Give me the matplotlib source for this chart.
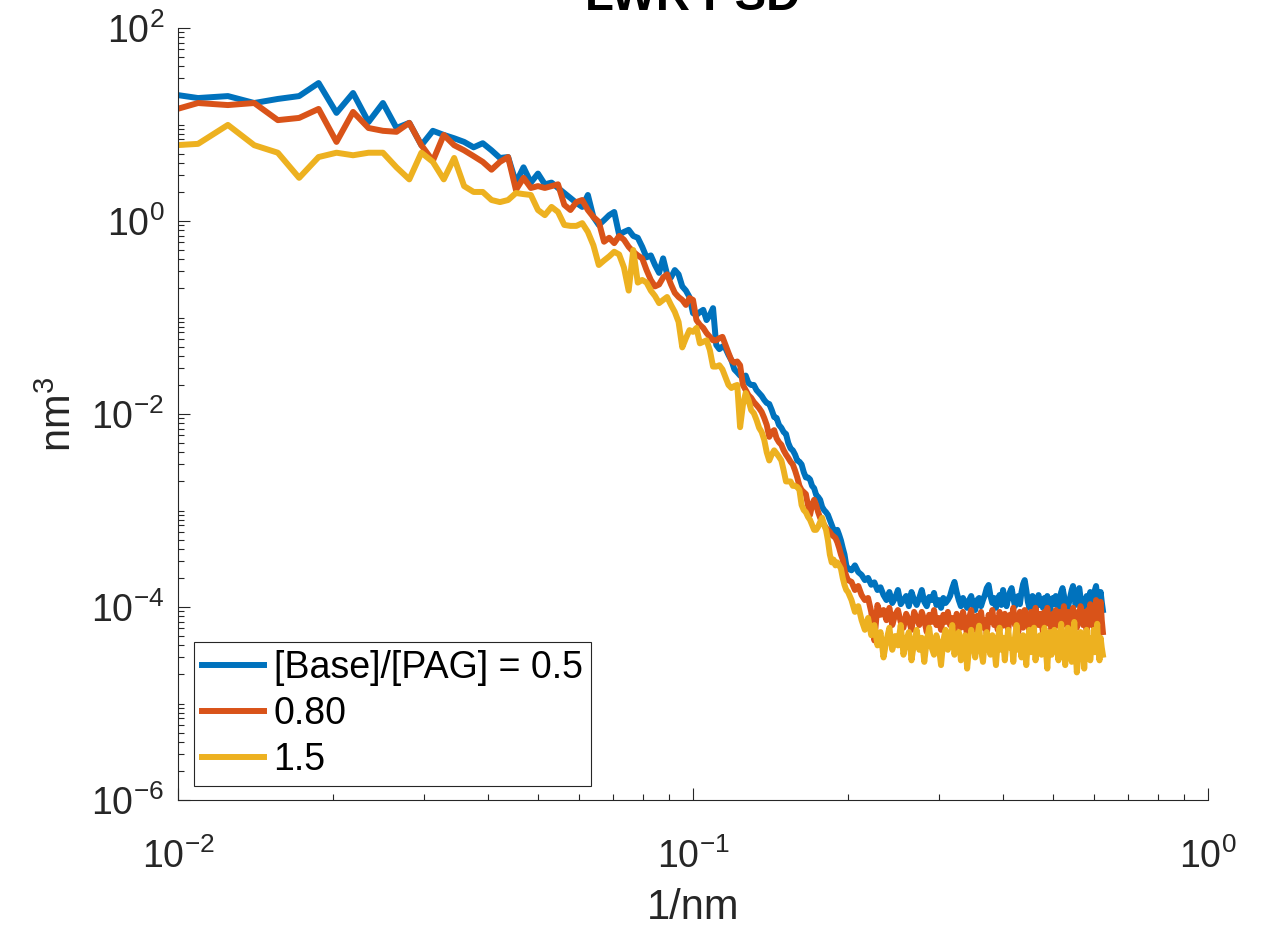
import numpy as np
import matplotlib
matplotlib.use("Agg")
import matplotlib.pyplot as plt
from matplotlib.ticker import LogLocator, NullFormatter

# ---------------- data ----------------
# spatial-frequency grid (1/nm): index k over 640 nm record length
k_low = np.arange(6, 129)
k_high = np.arange(130, 401, 2)
freq = np.concatenate([k_low, k_high]) / 640.0

series_labels = ["[Base]/[PAG] = 0.5", "0.80", "1.5"]

psd_05_low = [21.2, 18.8, 19.7, 16.7, 18.4, 19.7, 26.9, 13.2, 21.2, 10.6, 16.7, 9.2, 10.4, 6.1, 8.6,
              7.8, 7.2, 6.6, 5.8, 6.4, 5.4, 4.5, 4.6, 2.5, 3.6, 2.5, 3.1, 2.4, 2.5, 2.2,
              1.95, 1.73, 1.54, 1.40, 1.86, 1.10, 0.91, 1.02, 1.15, 1.24, 0.72, 0.77, 0.81, 0.70, 0.67,
              0.54, 0.42, 0.44, 0.35, 0.29, 0.41, 0.28, 0.26, 0.31, 0.28, 0.21, 0.19, 0.163, 0.111, 0.106,
              0.114, 0.120, 0.094, 0.106, 0.125, 0.052, 0.047, 0.050, 0.048, 0.041, 0.036, 0.029, 0.027, 0.025, 0.024,
              0.025, 0.021, 0.020, 0.020, 0.0177, 0.0165, 0.0154, 0.0140, 0.0130, 0.0127, 0.0110, 0.0093, 0.0091, 0.0077, 0.0072,
              0.0065, 0.0062, 0.0050, 0.0044, 0.0042, 0.0038, 0.0033, 0.0032, 0.0030, 0.0025, 0.0022, 0.0022, 0.0021, 0.0018, 0.0017,
              0.00145, 0.00138, 0.00129, 0.00109, 0.00101, 0.00096, 0.00090, 0.00080, 0.00071, 0.00063, 0.00058, 0.00063, 0.00056, 0.00049, 0.00041,
              0.00035, 0.00027, 0.00025]
psd_05_high = [2.4e-4, 2.7e-4, 2.3e-4, 2.15e-4, 1.9e-4, 2.0e-4, 1.7e-4, 1.8e-4, 1.5e-4, 1.6e-4, 1.33e-4,
               1.18e-4, 1.43e-4, 1.10e-4, 1.24e-4, 1.5e-4, 1.07e-4, 1.18e-4, 1.30e-4, 1.02e-4, 1.43e-4,
               1.18e-4, 1.05e-4, 1.24e-4, 1.5e-4, 1.13e-4, 1.02e-4, 1.27e-4, 1.18e-4, 1.40e-4, 1.05e-4,
               1.18e-4, 9.8e-5, 1.24e-4, 1.10e-4, 1.18e-4,
               1.30e-4, 1.57e-4, 1.82e-4, 1.43e-4, 1.18e-4, 1.02e-4, 1.24e-4, 1.10e-4, 9.8e-5, 1.18e-4,
               1.30e-4, 1.05e-4, 9.3e-5, 1.18e-4, 1.24e-4, 1.02e-4, 1.18e-4, 1.33e-4, 1.57e-4, 1.69e-4,
               1.30e-4, 1.10e-4, 1.24e-4, 9.8e-5, 1.18e-4, 1.33e-4, 1.05e-4, 1.50e-4, 1.18e-4, 1.02e-4,
               1.24e-4, 1.43e-4, 1.57e-4, 1.24e-4, 1.02e-4, 1.18e-4, 1.30e-4, 1.07e-4, 1.43e-4, 1.73e-4,
               1.90e-4, 1.50e-4, 1.13e-4, 9.8e-5, 1.18e-4, 1.30e-4, 1.07e-4, 9.3e-5, 1.18e-4, 1.33e-4,
               1.05e-4, 1.18e-4, 9.8e-5, 1.24e-4, 1.10e-4, 1.30e-4, 1.05e-4, 9.3e-5, 1.18e-4, 1.24e-4,
               1.07e-4, 1.30e-4, 1.18e-4, 9.8e-5, 1.24e-4, 1.43e-4, 1.57e-4, 1.33e-4, 1.07e-4, 1.18e-4,
               9.8e-5, 1.13e-4, 1.30e-4, 1.50e-4, 1.65e-4, 1.33e-4, 1.05e-4, 1.18e-4, 1.43e-4, 1.57e-4,
               1.24e-4, 1.02e-4, 1.18e-4, 9.3e-5, 1.13e-4, 1.30e-4, 1.07e-4, 1.18e-4, 1.43e-4, 1.24e-4,
               1.02e-4, 1.18e-4, 1.50e-4, 1.65e-4, 1.30e-4, 1.07e-4, 1.18e-4, 1.43e-4, 1.13e-4, 9.3e-5]

psd_080_low = [13.2, 16.7, 15.9, 16.7, 11.1, 11.7, 14.5, 6.6, 13.5, 9.2, 8.6, 8.4, 10.4, 6.1, 4.2,
               7.8, 6.1, 5.4, 4.7, 4.1, 3.4, 4.1, 4.6, 2.1, 2.8, 2.2, 2.3, 2.2, 2.3, 2.4,
               1.47, 1.30, 1.57, 1.65, 1.30, 1.10, 0.98, 0.61, 0.67, 0.59, 0.70, 0.64, 0.54, 0.48, 0.44,
               0.41, 0.31, 0.245, 0.21, 0.22, 0.26, 0.28, 0.22, 0.18, 0.163, 0.152, 0.135, 0.159, 0.152, 0.094,
               0.084, 0.078, 0.069, 0.063, 0.058, 0.058, 0.061, 0.063, 0.052, 0.043, 0.036, 0.034, 0.035, 0.032, 0.020,
               0.0177, 0.0157, 0.0147, 0.0133, 0.0124, 0.0115, 0.0105, 0.0091, 0.0077, 0.0058, 0.0065, 0.0068, 0.0056, 0.0051, 0.0048,
               0.0042, 0.0038, 0.0035, 0.0032, 0.0030, 0.0026, 0.0022, 0.0018, 0.00163, 0.00155, 0.00148, 0.00114, 0.00090, 0.00114, 0.00129,
               0.00114, 0.00096, 0.00084, 0.00076, 0.00071, 0.00066, 0.00063, 0.00060, 0.00056, 0.00054, 0.00052, 0.00047, 0.00041, 0.00035, 0.00031,
               0.00024, 0.00021, 0.00019]
psd_080_high = [1.82e-4, 1.50e-4, 1.65e-4, 1.33e-4, 1.18e-4, 1.24e-4, 8.9e-5, 4.5e-5, 1.05e-4, 8.3e-5, 9.3e-5,
                7.3e-5, 9.8e-5, 6.5e-5, 8.3e-5, 9.3e-5, 7.0e-5, 6.1e-5, 8.5e-5, 7.3e-5, 5.8e-5,
                8.9e-5, 7.7e-5, 6.5e-5, 8.9e-5, 7.3e-5, 5.5e-5, 8.3e-5, 7.0e-5, 9.3e-5, 6.5e-5,
                7.7e-5, 5.8e-5, 8.3e-5, 7.0e-5, 8.9e-5,
                6.5e-5, 7.7e-5, 5.5e-5, 8.5e-5, 7.3e-5, 6.1e-5, 8.9e-5, 7.0e-5, 5.1e-5, 7.7e-5,
                9.3e-5, 6.5e-5, 5.8e-5, 8.1e-5, 7.0e-5, 8.9e-5, 6.1e-5, 7.3e-5, 5.2e-5, 8.3e-5,
                7.0e-5, 9.3e-5, 6.5e-5, 7.7e-5, 5.8e-5, 8.9e-5, 7.3e-5, 6.4e-5, 8.5e-5, 7.0e-5,
                5.8e-5, 8.3e-5, 7.3e-5, 9.8e-5, 6.5e-5, 7.7e-5, 5.5e-5, 8.9e-5, 7.3e-5, 6.1e-5,
                9.3e-5, 7.0e-5, 8.1e-5, 5.8e-5, 8.9e-5, 7.3e-5, 6.4e-5, 9.8e-5, 7.7e-5, 6.5e-5,
                8.5e-5, 7.0e-5, 5.5e-5, 8.9e-5, 7.3e-5, 9.8e-5, 6.7e-5, 8.1e-5, 5.8e-5, 8.5e-5,
                7.3e-5, 9.3e-5, 6.4e-5, 7.7e-5, 8.9e-5, 6.1e-5, 7.3e-5, 1.02e-4, 7.7e-5, 6.5e-5,
                8.9e-5, 7.3e-5, 5.5e-5, 8.5e-5, 9.8e-5, 7.0e-5, 8.1e-5, 6.1e-5, 8.9e-5, 7.3e-5,
                1.02e-4, 7.7e-5, 6.5e-5, 8.9e-5, 7.3e-5, 5.8e-5, 9.3e-5, 7.7e-5, 1.07e-4, 7.3e-5,
                6.4e-5, 8.9e-5, 7.7e-5, 1.18e-4, 8.3e-5, 6.5e-5, 9.8e-5, 1.13e-4, 7.3e-5, 5.5e-5]

psd_15_low = [6.0, 6.3, 9.9, 6.1, 5.1, 2.8, 4.6, 5.1, 4.8, 5.1, 5.1, 3.6, 2.7, 5.1, 4.1,
              2.7, 4.5, 2.3, 2.0, 2.0, 1.65, 1.57, 1.65, 1.95, 1.90, 1.86, 1.30, 1.15, 1.40, 1.24,
              0.91, 0.89, 0.89, 0.95, 0.77, 0.56, 0.35, 0.39, 0.43, 0.48, 0.45, 0.33, 0.19, 0.50, 0.23,
              0.245, 0.23, 0.19, 0.167, 0.141, 0.152, 0.163, 0.135, 0.114, 0.090, 0.049, 0.061, 0.074, 0.071, 0.078,
              0.054, 0.056, 0.058, 0.046, 0.031, 0.031, 0.032, 0.029, 0.024, 0.020, 0.0186, 0.0195, 0.020, 0.0073, 0.0124,
              0.0165, 0.0140, 0.0110, 0.0102, 0.0087, 0.0072, 0.0065, 0.0054, 0.0040, 0.0033, 0.0038, 0.0042, 0.0039, 0.0036, 0.0033,
              0.0026, 0.0020, 0.0020, 0.0020, 0.0018, 0.0018, 0.00175, 0.00163, 0.00114, 0.00101, 0.00096, 0.00086, 0.00080, 0.00071, 0.00063,
              0.00063, 0.00068, 0.00076, 0.00084, 0.00071, 0.00063, 0.00049, 0.00035, 0.00029, 0.00031, 0.00027, 0.00029, 0.00027, 0.00025, 0.00020,
              0.000169, 0.000150, 0.000143]
psd_15_high = [1.18e-4, 8.9e-5, 1.02e-4, 7.3e-5, 5.8e-5, 7.7e-5, 5.1e-5, 6.5e-5, 4.0e-5, 5.5e-5, 3.0e-5,
               4.5e-5, 6.1e-5, 3.6e-5, 5.0e-5, 4.0e-5, 6.5e-5, 3.2e-5, 4.5e-5, 5.5e-5, 2.8e-5,
               4.3e-5, 5.8e-5, 3.6e-5, 4.8e-5, 2.7e-5, 4.5e-5, 6.1e-5, 3.8e-5, 3.2e-5, 5.1e-5,
               4.0e-5, 2.5e-5, 4.5e-5, 5.8e-5, 3.6e-5,
               4.3e-5, 6.5e-5, 3.2e-5, 4.5e-5, 5.5e-5, 2.8e-5, 4.0e-5, 5.1e-5, 2.3e-5, 3.8e-5,
               5.8e-5, 4.3e-5, 3.0e-5, 4.8e-5, 6.4e-5, 3.6e-5, 2.7e-5, 4.5e-5, 5.5e-5, 3.8e-5,
               3.2e-5, 5.1e-5, 4.0e-5, 2.5e-5, 4.5e-5, 6.1e-5, 3.6e-5, 4.8e-5, 2.8e-5, 4.3e-5,
               5.8e-5, 3.8e-5, 4.5e-5, 2.7e-5, 4.8e-5, 6.5e-5, 3.6e-5, 4.3e-5, 3.0e-5, 5.1e-5,
               4.0e-5, 2.5e-5, 4.5e-5, 5.8e-5, 3.4e-5, 4.1e-5, 6.1e-5, 2.8e-5, 4.5e-5, 3.8e-5,
               5.1e-5, 3.2e-5, 4.3e-5, 6.1e-5, 3.6e-5, 2.3e-5, 4.5e-5, 5.5e-5, 3.2e-5, 4.0e-5,
               5.8e-5, 3.8e-5, 4.5e-5, 2.8e-5, 5.1e-5, 6.7e-5, 3.6e-5, 4.3e-5, 2.5e-5, 4.8e-5,
               6.1e-5, 3.4e-5, 4.0e-5, 2.7e-5, 5.0e-5, 7.0e-5, 3.8e-5, 2.1e-5, 2.8e-5, 4.0e-5,
               5.5e-5, 3.2e-5, 4.5e-5, 2.3e-5, 4.3e-5, 5.8e-5, 3.6e-5, 4.8e-5, 2.8e-5, 3.8e-5,
               4.0e-5, 5.8e-5, 3.4e-5, 4.5e-5, 6.7e-5, 3.6e-5, 2.8e-5, 4.8e-5, 3.8e-5, 3.2e-5]

series_values = [psd_05_low + psd_05_high, psd_080_low + psd_080_high, psd_15_low + psd_15_high]
series_colors = ["#0072BD", "#D95319", "#EDB120"]

x_ticks = [1e-2, 1e-1, 1e0]
x_ticklabels = [r"$10^{-2}$", r"$10^{-1}$", r"$10^{0}$"]
y_ticks = [1e-6, 1e-4, 1e-2, 1e0, 1e2]
y_ticklabels = [r"$10^{-6}$", r"$10^{-4}$", r"$10^{-2}$", r"$10^{0}$", r"$10^{2}$"]

# ---------------- style ----------------
plt.rcParams["font.family"] = ["Liberation Sans", "DejaVu Sans"]
plt.rcParams["mathtext.fontset"] = "custom"
plt.rcParams["mathtext.rm"] = "Liberation Sans"
plt.rcParams["mathtext.it"] = "Liberation Sans:italic"
plt.rcParams["mathtext.bf"] = "Liberation Sans:bold"
plt.rcParams["axes.unicode_minus"] = False

AX_COL = "#262626"
W, H = 1268, 932
fig = plt.figure(figsize=(W / 100, H / 100), dpi=100)
ax = fig.add_axes([178 / W, 1 - 800 / H, (1208 - 178) / W, (800 - 28) / H])

for vals, col, lab in zip(series_values, series_colors, series_labels):
    ax.plot(freq, vals, color=col, lw=4.3, label=lab, solid_joinstyle="round")

ax.set_xscale("log")
ax.set_yscale("log")
ax.set_xlim(1e-2, 1e0)
ax.set_ylim(1e-6, 1e2)

ax.set_xticks(x_ticks)
ax.set_xticklabels(x_ticklabels)
ax.set_yticks(y_ticks)
ax.set_yticklabels(y_ticklabels)
ax.xaxis.set_minor_locator(LogLocator(base=10, subs=np.arange(2, 10), numticks=50))
ax.yaxis.set_minor_locator(LogLocator(base=10, subs=np.arange(1, 10), numticks=100))
ax.xaxis.set_minor_formatter(NullFormatter())
ax.yaxis.set_minor_formatter(NullFormatter())

ax.tick_params(which="both", direction="in", colors=AX_COL, width=0.8, labelsize=27)
ax.tick_params(which="major", length=8.5)
ax.tick_params(which="minor", length=4.5)
ax.tick_params(axis="x", which="major", pad=28)
ax.tick_params(axis="y", which="major", pad=10)

for side in ["top", "right"]:
    ax.spines[side].set_visible(False)
for side in ["left", "bottom"]:
    ax.spines[side].set_color(AX_COL)
    ax.spines[side].set_linewidth(0.8)

ax.set_xlabel("1/nm", fontsize=30, color=AX_COL, labelpad=8)
ax.set_ylabel(r"nm$^{3}$", fontsize=30, color=AX_COL, labelpad=8)
ax.set_title("LWR PSD", fontsize=34, fontweight="bold", color="black", pad=13)

leg = ax.legend(loc="lower left", bbox_to_anchor=(16 / 1030, 14 / 772), borderaxespad=0,
                fontsize=27, frameon=True, fancybox=False, framealpha=1,
                edgecolor=AX_COL, handlelength=1.65, handletextpad=0.25,
                labelspacing=0.26, borderpad=0.22)
leg.get_frame().set_linewidth(0.8)
for line in leg.get_lines():
    line.set_linewidth(4.3)

fig.savefig("out.png", dpi=100)
